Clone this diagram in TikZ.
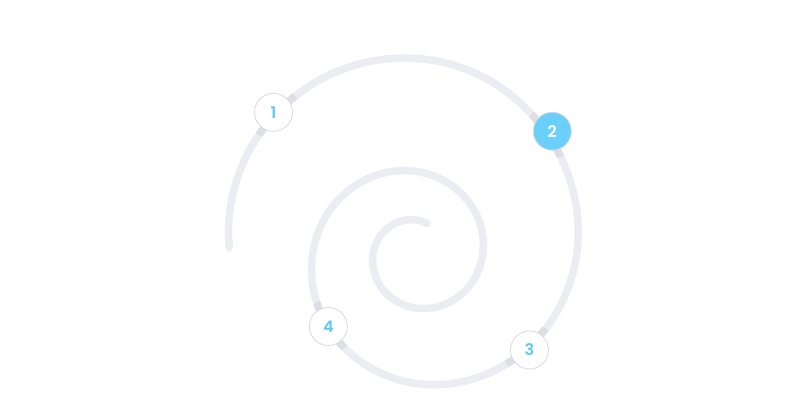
\documentclass[tikz,border=0pt]{standalone}
\usepackage{fontspec}
\setmainfont{Poppins}
\newfontfamily\stepfont{Poppins SemiBold}
\usetikzlibrary{positioning}
\definecolor{trackgray}{RGB}{236,236,243}
\definecolor{trackshade}{RGB}{222,222,229}
\definecolor{ringgray}{RGB}{218,218,222}
\definecolor{stepblue}{RGB}{92,200,247}
\definecolor{stepfill}{RGB}{106,208,250}
\newcommand{\spiralpath}{plot[domain=70:898, samples=320, variable=\t]
  ({416+spr(\t)*cos(\t)}, {254.5-spr(\t)*sin(\t)})}

\begin{document}
\begin{tikzpicture}[x=1pt, y=-1pt,
    declare function={spr(\t)=34.5*exp(0.0024347*(\t-90))-0.0044*max(0,\t-780)*max(0,\t-780);},
    track/.style={line width=7.5pt, line cap=round, draw=trackgray},
    stepnode/.style={circle, draw=ringgray, line width=0.8pt, fill=white, minimum size=38pt, inner sep=0pt, font=\stepfont\fontsize{16}{16}\selectfont, text=stepblue},
    stepon/.style={stepnode, fill=stepfill, text=white},
]
  \useasboundingbox (0,0) rectangle (800,420);

  % stop positions along the spiral
  \coordinate (p1) at (273.5,112.3);
  \coordinate (p2) at (552.3,131.2);
  \coordinate (p3) at (529.5,350);
  \coordinate (p4) at (328.3,326.5);

  % spiral track
  \draw[track] \spiralpath;
  % darker track under the stops
  \begin{scope}
    \clip (p1) circle (27pt) (p2) circle (27pt) (p3) circle (27pt) (p4) circle (27pt);
    \draw[track, draw=trackshade] \spiralpath;
  \end{scope}

  % stops
  \node[stepnode] (s1) at (p1) {1};
  \node[stepon] (s2) at (p2) {2};
  \node[stepnode] (s3) at (p3) {3};
  \node[stepnode] (s4) at (p4) {4};
\end{tikzpicture}
\end{document}
